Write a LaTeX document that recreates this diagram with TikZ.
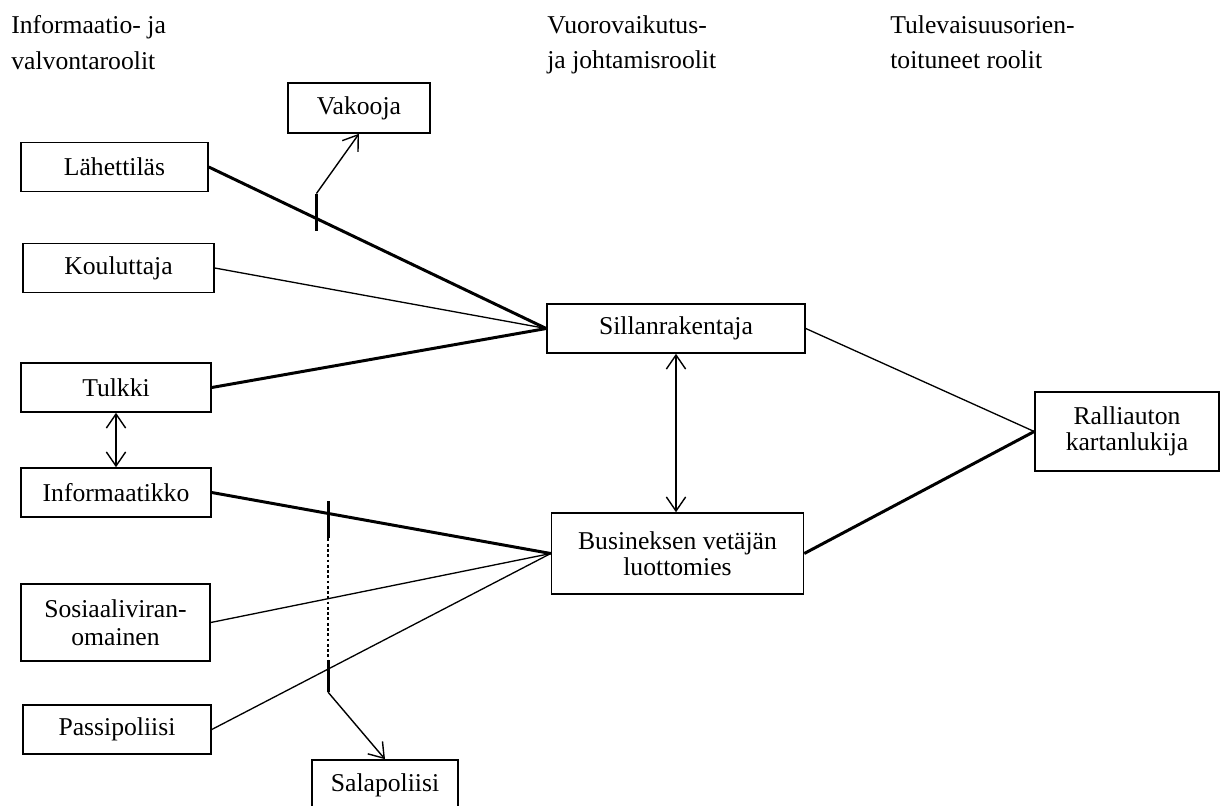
\documentclass[tikz,border=0pt]{standalone}
\usepackage{fontspec}
\setmainfont{Liberation Serif}
\usetikzlibrary{arrows.meta, positioning, calc}

\begin{document}
\begin{tikzpicture}[x=0.02cm, y=-0.02cm,
  role/.style={rectangle, draw, line width=0.9pt, minimum width=3.8cm,
               minimum height=0.98cm, align=center, inner sep=2pt,
               font=\fontsize{14.6}{14.5}\selectfont},
  head/.style={anchor=north west, inner sep=0pt, align=left,
               font=\fontsize{14.6}{20.4}\selectfont},
  strong/.style={line width=1.7pt},
  weak/.style={line width=0.75pt},
  crossbar/.style={line width=1.7pt},
  link/.style={line width=0.8pt, -{Straight Barb[length=8pt,width=11pt]}},
  both/.style={line width=0.8pt,
               {Straight Barb[length=8pt,width=11pt]}-{Straight Barb[length=8pt,width=11pt]}}
]
\useasboundingbox (0,0) rectangle (1221,805);

% Column headings
\node[head] (h1) at (11,15) {Informaatio- ja\\valvontaroolit};
\node[head] (h2) at (547,15) {Vuorovaikutus-\\ja johtamisroolit};
\node[head] (h3) at (890,15) {Tulevaisuusorien-\\toituneet roolit};

% Left column
\node[role, minimum width=3.74cm] (lah) at (114.5,167) {Lähettiläs};
\node[role, minimum width=3.82cm] (kou) at (118.5,268) {Kouluttaja};
\node[role] (tul) at (116,387.5) {Tulkki};
\node[role] (inf) at (116,492.5) {Informaatikko};
\node[role, minimum width=3.78cm, minimum height=1.54cm, font=\fontsize{14.6}{16}\selectfont] (sos) at (115.5,622.5) {Sosiaaliviran-\\omainen};
\node[role, minimum width=3.76cm] (pas) at (117,729.5) {Passipoliisi};

% Side roles
\node[role, minimum width=2.84cm, minimum height=1cm] (vak) at (359,108) {Vakooja};
\node[role, minimum width=2.92cm, minimum height=1cm] (sal) at (385,785) {Salapoliisi};

% Middle and right
\node[role, minimum width=5.16cm] (sil) at (676,328.5) {Sillanrakentaja};
\node[role, minimum width=5.04cm, minimum height=1.62cm] (bus) at (677.5,553.5) {Busineksen vetäjän\\luottomies};
\node[role, minimum width=3.68cm, minimum height=1.58cm] (ral) at (1127,431.5) {Ralliauton\\kartanlukija};

% Links to Sillanrakentaja
\draw[strong] (lah.east) -- (sil.west) coordinate[pos=0.319] (vx);
\draw[weak] (kou.east) -- (sil.west);
\draw[strong] (tul.east) -- (sil.west);

% Links to Busineksen vetajan luottomies
\draw[strong] (inf.east) -- (bus.west) coordinate[pos=0.343] (sx1);
\draw[weak] (sos.east) -- (bus.west);
\draw[weak] (pas.east) -- (bus.west) coordinate[pos=0.343] (sx2);

% Links to Ralliauton kartanlukija
\draw[weak] (sil.east) -- (ral.west);
\draw[strong] (bus.east) -- (ral.west);

% Double arrows
\draw[both] (tul.south) -- (tul.south |- inf.north);
\draw[both] (sil.south) -- (sil.south |- bus.north);

% Vakooja branch
\coordinate (vtop) at ($(vx)+(0,-25)$);
\draw[crossbar] (vtop) -- ($(vx)+(0,12)$);
\draw[link] (vtop) -- (vak.south);

% Salapoliisi branch
\coordinate (s1) at ($(sx1)+(0,25)$);
\coordinate (s2) at ($(sx2)+(0,-9)$);
\coordinate (sbot) at ($(sx2)+(0,23)$);
\draw[crossbar] ($(sx1)+(0,-12)$) -- (s1);
\draw[line width=1.5pt, dash pattern=on 1.6pt off 1.4pt] (s1) -- (s2);
\draw[crossbar] (s2) -- (sbot);
\draw[link] (sbot) -- (sal.north);
\end{tikzpicture}
\end{document}
